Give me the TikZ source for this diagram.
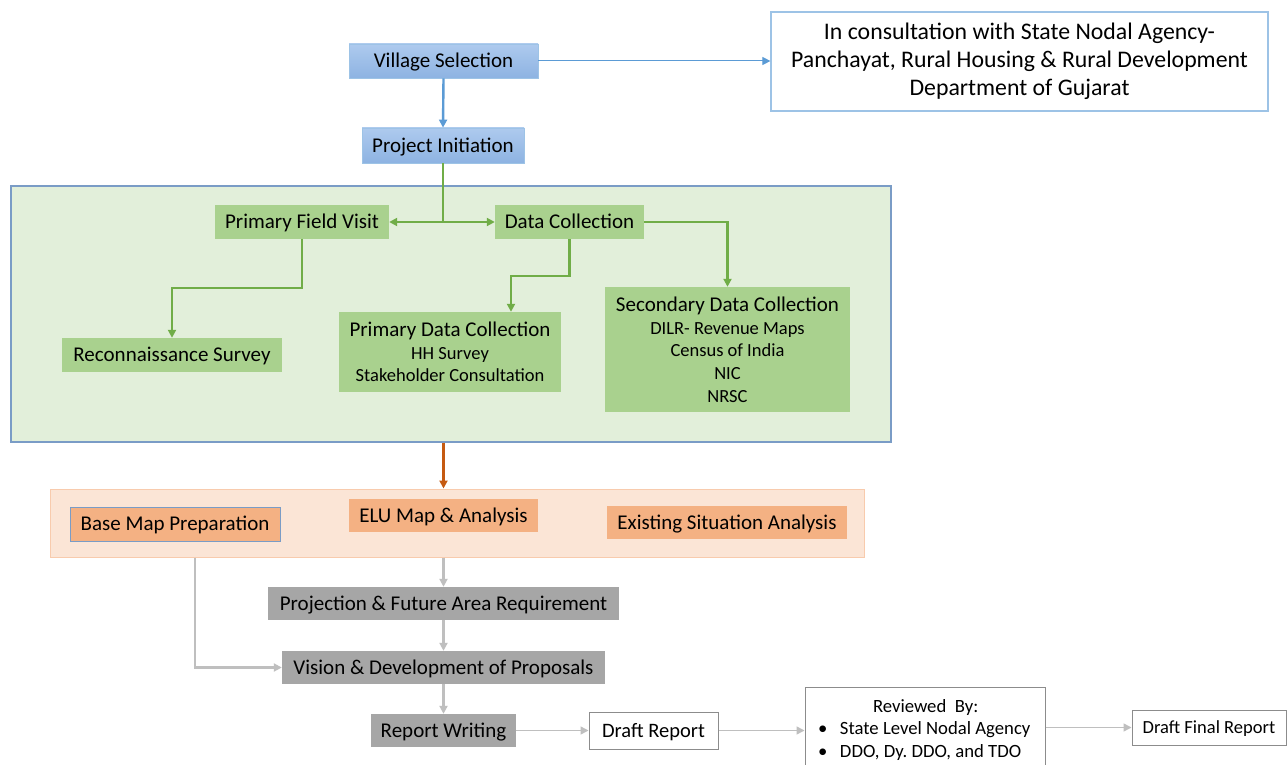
\documentclass[tikz,border=0pt]{standalone}
\usepackage{fontspec}
\setmainfont{Carlito}
\usepackage{xcolor}
\usetikzlibrary{arrows.meta,positioning}
\frenchspacing

\definecolor{vsblue}{HTML}{AECAEE}
\definecolor{vsbluedark}{HTML}{8DB3E2}
\definecolor{lineblue}{HTML}{5B9BD5}
\definecolor{edgeblue}{HTML}{9DC3E6}
\definecolor{panelgreen}{HTML}{E2EFDA}
\definecolor{boxgreen}{HTML}{A9D18E}
\definecolor{linegreen}{HTML}{70AD47}
\definecolor{panelframe}{HTML}{7A9CC6}
\definecolor{panelpeach}{HTML}{FBE5D6}
\definecolor{peachframe}{HTML}{F8CBAD}
\definecolor{boxorange}{HTML}{F4B183}
\definecolor{lineorange}{HTML}{C55A11}
\definecolor{boxgray}{HTML}{A6A6A6}
\definecolor{linegray}{HTML}{BFBFBF}
\definecolor{framegray}{HTML}{8C8C8C}

\newcommand{\maintxt}{\fontsize{21}{25}\selectfont}
\newcommand{\subtxt}{\fontsize{18.5}{22.7}\selectfont}

\begin{document}
\begin{tikzpicture}[x=1pt,y=-1pt,
    tip/.style={-{Triangle[length=8pt,width=8pt]}},
    thintip/.style={-{Triangle[length=8pt,width=8pt]}},
    flat/.style={text height=13.5pt,text depth=0pt}]
  \useasboundingbox (0,0) rectangle (1288,765);
  \fill[white] (0,0) rectangle (1288,765);

  % background panels
  \begin{scope}[every node/.style={inner sep=0pt}]
    \node[draw=panelframe,line width=1.2pt,fill=panelgreen,
          minimum width=880pt,minimum height=256pt] (panel) at (451,314) {};
    \node[draw=peachframe,line width=1pt,fill=panelpeach,
          minimum width=814pt,minimum height=68pt] (peach) at (457,523) {};
  \end{scope}

  % blue steps
  \begin{scope}[every node/.style={draw=edgeblue,line width=0.8pt,top color=vsblue,
        bottom color=vsbluedark,inner sep=0pt,font=\maintxt,flat}]
    \node[minimum width=189pt,minimum height=34pt] (vs) at (443.5,61) {Village Selection};
    \node[minimum width=162pt,minimum height=35pt] (pi) at (443,145.5) {Project Initiation};
  \end{scope}
  \node[draw=edgeblue,line width=1.2pt,fill=white,minimum width=497pt,minimum height=99pt,
        inner sep=0pt,align=center,font=\fontsize{23.8}{27.8}\selectfont]
        (cons) at (1019.5,61.5)
        {In consultation with State Nodal Agency-\\Panchayat, Rural Housing \& Rural Development\\Department of Gujarat};

  % green steps
  \begin{scope}[every node/.style={fill=boxgreen,inner sep=0pt,font=\maintxt,align=center}]
    \node[flat,minimum width=174pt,minimum height=34pt] (pfv) at (302,222) {Primary Field Visit};
    \node[flat,minimum width=149pt,minimum height=34pt] (dc) at (569.5,222) {Data Collection};
    \node[flat,minimum width=220pt,minimum height=34pt] (recon) at (172,355) {Reconnaissance Survey};
    \node[font=\subtxt,minimum width=222pt,minimum height=80pt] (pdc) at (450,352)
      {{\maintxt Primary Data Collection}\\HH Survey\\Stakeholder Consultation};
    \node[font=\subtxt,minimum width=245pt,minimum height=125pt] (sdc) at (727.5,349.5)
      {{\maintxt Secondary Data Collection}\\DILR- Revenue Maps\\Census of India\\NIC\\NRSC};
  \end{scope}

  % orange steps
  \begin{scope}[every node/.style={fill=boxorange,inner sep=0pt,font=\maintxt,flat}]
    \node[draw=panelframe,line width=0.8pt,minimum width=210pt,minimum height=34pt] (bmp) at (175,524) {Base Map Preparation};
    \node[minimum width=189pt,minimum height=33pt] (elu) at (443.5,515.5) {ELU Map \& Analysis};
    \node[minimum width=240pt,minimum height=33pt] (esa) at (727,522.5) {Existing Situation Analysis};
  \end{scope}

  % gray steps
  \begin{scope}[every node/.style={fill=boxgray,inner sep=0pt,font=\maintxt,flat}]
    \node[minimum width=351pt,minimum height=33pt] (proj) at (443.5,603.5) {Projection \& Future Area Requirement};
    \node[minimum width=323pt,minimum height=33pt] (vis) at (443.5,667.5) {Vision \& Development of Proposals};
    \node[minimum width=145pt,minimum height=33pt] (rw) at (443.5,730.5) {Report Writing};
  \end{scope}

  % report boxes
  \begin{scope}[every node/.style={draw=framegray,line width=1pt,fill=white,inner sep=0pt}]
    \node[minimum width=129pt,minimum height=37pt,font=\fontsize{20.5}{24}\selectfont,
          text height=13pt,text depth=0pt] (dr) at (653.5,730.5) {Draft Report};
    \node[minimum width=240pt,minimum height=110pt,text width=240pt,align=flush left,
          font=\fontsize{18.7}{22.5}\selectfont] (rev) at (925,742)
      {\hspace*{68pt}Reviewed\ \ By:\\
       \hspace*{13pt}\makebox[22pt][l]{\textbullet}State Level Nodal Agency\\
       \hspace*{13pt}\makebox[22pt][l]{\textbullet}DDO, Dy. DDO, and TDO\rule[-27pt]{0pt}{1pt}};
    \node[minimum width=154pt,minimum height=35pt,font=\fontsize{18.5}{22}\selectfont,
          text height=12pt,text depth=0pt] (dfr) at (1209,727.5) {Draft Final Report};
  \end{scope}

  % blue connectors
  \draw[lineblue,line width=1pt,thintip] (vs.east) -- (vs.east -| cons.west);
  \draw[lineblue,line width=2.4pt,tip] (vs.south) -- (pi.north);

  % green connectors
  \begin{scope}[linegreen,line width=2.4pt,tip]
    \draw (pi.south) |- (pfv.east);
    \draw (pi.south) |- (dc.west);
    \draw (pfv.south) -- ++(0,49) -| (recon.north);
    \draw (dc.south) -- ++(0,37) -| ([xshift=61pt]pdc.north);
    \draw (dc.east) -| (sdc.north);
  \end{scope}

  % orange connector
  \draw[lineorange,line width=2.4pt,tip] (panel.south -| elu.north) -- (peach.north -| elu.north);

  % gray connectors
  \begin{scope}[linegray,line width=2.4pt,tip]
    \coordinate (mapdrop) at ([xshift=20pt]bmp.south |- peach.south);
    \draw (proj.north |- peach.south) -- (proj.north);
    \draw (proj.south) -- (vis.north);
    \draw (mapdrop) |- (vis.west);
    \draw (vis.south) -- (rw.north);
  \end{scope}
  \begin{scope}[linegray,line width=1.5pt,thintip]
    \draw (rw.east) -- (dr.west);
    \draw (dr.east) -- (dr.east -| rev.west);
    \draw (rev.east |- dfr.west) -- (dfr.west);
  \end{scope}
\end{tikzpicture}
\end{document}
